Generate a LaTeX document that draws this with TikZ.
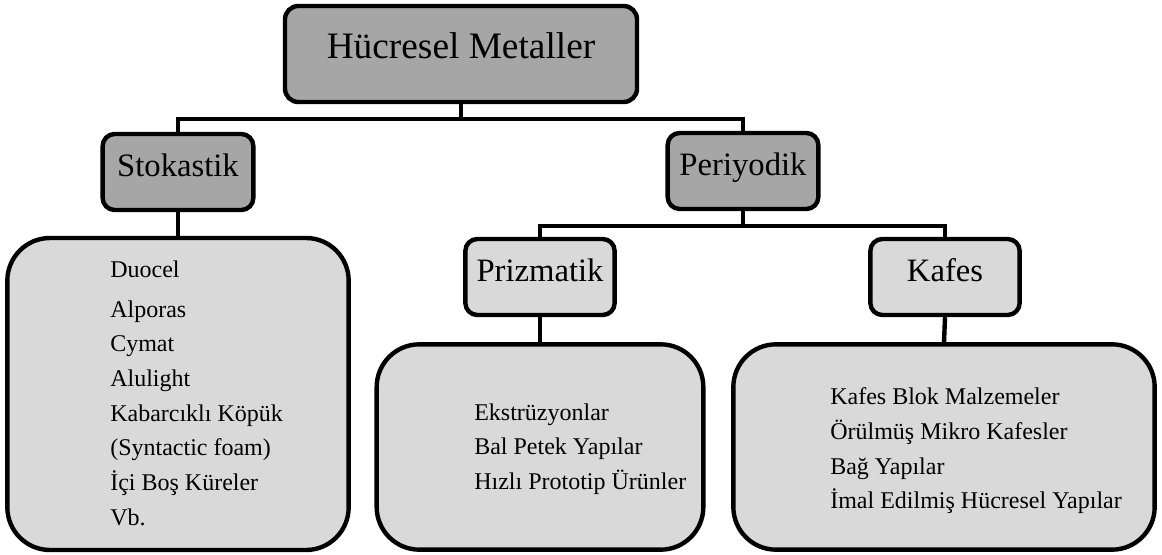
\documentclass[tikz,border=0pt]{standalone}
\usepackage{fontspec}
\setmainfont{Liberation Serif}
\usetikzlibrary{calc}

\definecolor{darkfill}{HTML}{A6A6A6}
\definecolor{lightfill}{HTML}{D9D9D9}

\begin{document}
\begin{tikzpicture}[x=0.75pt, y=-0.75pt,
    box/.style={draw, line width=3.3pt, inner sep=0pt},
    topbox/.style={box, fill=darkfill, rounded corners=10pt, minimum width=264pt, minimum height=72pt, text height=0.66em, text depth=0pt, font=\fontsize{28}{32}\selectfont},
    midbox/.style={box, fill=darkfill, rounded corners=9pt, minimum width=113pt, minimum height=57pt, text height=0.66em, text depth=0pt, font=\fontsize{24.5}{28}\selectfont},
    subbox/.style={box, fill=lightfill, rounded corners=9pt, minimum width=112pt, minimum height=57pt, text height=0.66em, text depth=0pt, font=\fontsize{24.5}{28}\selectfont},
    listbox/.style={box, fill=lightfill, rounded corners=32pt},
    listtext/.style={anchor=west, inner sep=0pt, align=left, font=\fontsize{18}{26}\selectfont},
    conn/.style={line width=3.3pt}]
            \useasboundingbox (0,0) rectangle (1162,555);
            % boxes
            \node[topbox] (HM) at (461, 54) {Hücresel Metaller};
            \node[midbox] (STO) at (178, 172) {Stokastik};
            \node[midbox] (PER) at (743, 171) {Periyodik};
            \node[subbox] (PRI) at (540, 277) {Prizmatik};
            \node[subbox] (KAF) at (945, 277) {Kafes};
            \node[listbox, minimum width=256pt, minimum height=234pt] (STOL) at (178, 394) {};
            \node[listbox, minimum width=245pt, minimum height=154pt] (PRIL) at (540, 447) {};
            \node[listbox, minimum width=316pt, minimum height=154pt] (KAFL) at (944, 447) {};
            % lists
            \node[listtext] (STOT) at (110, 393) {Duocel\\[4pt] Alporas\\ Cymat\\ Alulight\\ Kabarcıklı Köpük\\ (Syntactic foam)\\ İçi Boş Küreler\\ Vb.};
            \node[listtext] (PRIT) at (474, 449) {Ekstrüzyonlar\\ Bal Petek Yapılar\\ Hızlı Prototip Ürünler};
            \node[listtext] (KAFT) at (830, 451) {Kafes Blok Malzemeler\\ Örülmüş Mikro Kafesler\\ Bağ Yapılar\\ İmal Edilmiş Hücresel Yapılar};
            % connectors
            \draw[conn] (HM.south) -- ++(0,15) -| (STO.north);
            \draw[conn] (HM.south) -- ++(0,15) -| (PER.north);
            \draw[conn] (PER.south) -- ++(0,15) -| (PRI.north);
            \draw[conn] (PER.south) -- ++(0,15) -| (KAF.north);
            \draw[conn] (STO.south) -- (STOL.north);
            \draw[conn] (PRI.south) -- (PRIL.north);
            \draw[conn] (KAF.south) -- (KAFL.north);
        \end{tikzpicture}
\end{document}
